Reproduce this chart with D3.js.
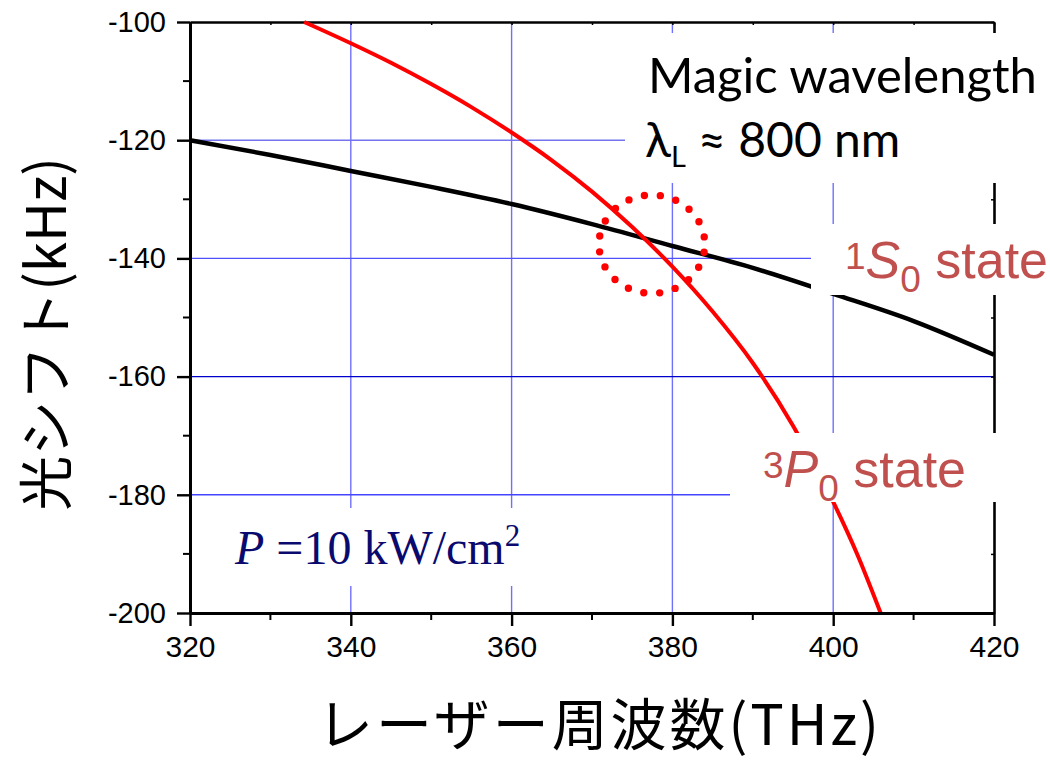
<!DOCTYPE html>
<html><head><meta charset="utf-8">
<script src="https://cdn.jsdelivr.net/npm/d3@7"></script>
<style>html,body{margin:0;padding:0;background:#fff;} svg{display:block}</style>
</head><body>
<svg id="chart" width="1050" height="766"></svg>
<script>
// ---- data ----
const xDomain = [320, 420];
const yDomain = [-200, -100];
const xTickValues = [320, 340, 360, 380, 400, 420];
const yTickValues = [-100, -120, -140, -160, -180, -200];
const xMinorTicks = [330, 350, 370, 390, 410];
const yMinorTicks = [-110, -130, -150, -170, -190];
const xGridValues = [340, 360, 380, 400];
const yGridValues = [-120, -140, -160, -180];
const freqS0  = [320, 330, 340, 350, 360, 370, 380, 390, 400, 410, 420];
const shiftS0 = [-120.0, -122.5, -125.2, -127.9, -130.8, -134.2, -137.9, -141.6, -146.0, -150.6, -156.3];
const freqP0  = [334.2, 340, 345, 350, 355, 360, 365, 370, 375, 380, 385, 390, 395, 400, 403, 405.9];
const shiftP0 = [-100, -103.6, -106.9, -110.5, -114.4, -118.7, -123.4, -128.7, -134.7, -141.4, -149.0, -157.7, -168.3, -181.2, -190.1, -200];
const magicCenter = [377.45, -137.6];
const magicRadius = [6.58, 8.32];

// ---- layout ----
const svg = d3.select('#chart');
const x = d3.scaleLinear().domain(xDomain).range([190, 994]);
const y = d3.scaleLinear().domain(yDomain).range([613, 22]);
const tickFont = "'Liberation Sans', Arial, sans-serif";

// grid
const gridColor = {"-120": "#7474ee", "-140": "#5050ff", "-160": "#0000cc", "-180": "#4545ff"};
svg.append('g').selectAll('line').data(xGridValues).join('line')
  .attr('x1', d => x(d)).attr('x2', d => x(d))
  .attr('y1', y(yDomain[1])).attr('y2', y(yDomain[0]))
  .attr('stroke', '#7070ff').attr('stroke-width', 1.4);
svg.append('g').selectAll('line').data(yGridValues).join('line')
  .attr('x1', x(xDomain[0])).attr('x2', x(xDomain[1]))
  .attr('y1', d => y(d)).attr('y2', d => y(d))
  .attr('stroke', d => gridColor[d]).attr('stroke-width', 1.4);

// top & right axes (mirror, tiny inward ticks)
const topAx = svg.append('g').attr('transform', `translate(0,${y(yDomain[1])})`)
  .call(d3.axisBottom(x).tickValues(xTickValues.concat(xMinorTicks)).tickSize(3).tickSizeOuter(0).tickFormat(''));
const rightAx = svg.append('g').attr('transform', `translate(${x(xDomain[1])},0)`)
  .call(d3.axisLeft(y).tickValues(yTickValues.concat(yMinorTicks)).tickSize(3).tickSizeOuter(0).tickFormat(''));
[topAx, rightAx].forEach(g => {
  g.select('.domain').attr('stroke', '#000').attr('stroke-width', 2.6);
  g.selectAll('.tick line').attr('stroke', '#000').attr('stroke-width', 1.5);
});

// curves
const line = d3.line().x(d => x(d[0])).y(d => y(d[1])).curve(d3.curveMonotoneX);
svg.append('path').datum(d3.zip(freqS0, shiftS0)).attr('d', line)
  .attr('fill', 'none').attr('stroke', '#000').attr('stroke-width', 4.5);
svg.append('path').datum(d3.zip(freqP0, shiftP0)).attr('d', line)
  .attr('fill', 'none').attr('stroke', '#ff0000').attr('stroke-width', 4);

// dotted magic circle
const rxPx = x(magicCenter[0] + magicRadius[0]) - x(magicCenter[0]);
const ryPx = y(magicCenter[1]) - y(magicCenter[1] + magicRadius[1]);
const circ = 2 * Math.PI * Math.sqrt((rxPx * rxPx + ryPx * ryPx) / 2);
const gap = circ / 20;
svg.append('ellipse')
  .attr('cx', x(magicCenter[0])).attr('cy', y(magicCenter[1]))
  .attr('rx', rxPx).attr('ry', ryPx)
  .attr('fill', 'none').attr('stroke', '#ff0000').attr('stroke-width', 7.4)
  .attr('stroke-linecap', 'round')
  .attr('stroke-dasharray', `0 ${gap}`).attr('stroke-dashoffset', -gap / 2);

// white label boxes
const boxes = [[625, 33, 425, 150], [811, 224, 239, 71], [730, 433, 320, 69], [205, 508, 400, 78]];
svg.append('g').selectAll('rect').data(boxes).join('rect')
  .attr('x', d => d[0]).attr('y', d => d[1]).attr('width', d => d[2]).attr('height', d => d[3])
  .attr('fill', '#fff');

// left & bottom axes
const leftAx = svg.append('g').attr('transform', `translate(${x(xDomain[0])},0)`)
  .call(d3.axisLeft(y).tickValues(yTickValues).tickSize(13).tickSizeOuter(0).tickPadding(11).tickFormat(d3.format('d')));
leftAx.append('g').selectAll('line').data(yMinorTicks).join('line')
  .attr('x1', 0).attr('x2', -7).attr('y1', d => y(d)).attr('y2', d => y(d))
  .attr('stroke', '#000').attr('stroke-width', 2);
const botAx = svg.append('g').attr('transform', `translate(0,${y(yDomain[0])})`)
  .call(d3.axisBottom(x).tickValues(xTickValues).tickSize(13).tickSizeOuter(0).tickPadding(10).tickFormat(d3.format('d')));
botAx.append('g').selectAll('line').data(xMinorTicks).join('line')
  .attr('x1', d => x(d)).attr('x2', d => x(d)).attr('y1', 0).attr('y2', 7)
  .attr('stroke', '#000').attr('stroke-width', 2);
[leftAx, botAx].forEach(g => {
  g.select('.domain').attr('stroke', '#000').attr('stroke-width', 3);
  g.selectAll('.tick line').attr('stroke', '#000').attr('stroke-width', 2.4);
  g.selectAll('.tick text').attr('fill', '#000').style('font-family', tickFont);
});
leftAx.selectAll('.tick text').style('font-size', '29px').text(d => d3.format('d')(d).replace('−', '-'));
botAx.selectAll('.tick text').style('font-size', '30px');

// axis titles
const cjk = "'Noto Sans CJK JP', 'Noto Sans', sans-serif";
svg.append('text').attr('transform', 'translate(42,334) rotate(-90)')
  .attr('text-anchor', 'middle').attr('dominant-baseline', 'central')
  .style('font-family', cjk).style('font-size', '55px').attr('fill', '#000')
  .text('光シフト(kHz)');
svg.append('text').attr('x', 598).attr('y', 745).attr('text-anchor', 'middle')
  .style('font-family', cjk).style('font-size', '56px').attr('fill', '#000')
  .attr('textLength', 562).attr('lengthAdjust', 'spacing')
  .text('レーザー周波数(THz)');

// annotations
const calib = "Lato, 'Open Sans', sans-serif";
svg.append('text').attr('x', 648).attr('y', 93)
  .style('font-family', calib).style('font-size', '49px').attr('fill', '#000')
  .text('Magic wavelength');
const lam = svg.append('text').attr('x', 645).attr('y', 157)
  .style('font-family', calib).style('font-size', '48px').attr('fill', '#000');
lam.append('tspan').text('λ');
lam.append('tspan').attr('dy', 10).style('font-size', '29px').text('L');
lam.append('tspan').attr('dy', -10).text(' ≈ 800 nm');

const labCol = '#c0504d';
function stateLabel(x0, base, sup, letter) {
  const t = svg.append('text').attr('x', x0).attr('y', base)
    .style('font-family', tickFont).attr('fill', labCol).style('font-size', '52px');
  t.append('tspan').attr('dy', -9).style('font-size', '37px').text(sup);
  t.append('tspan').attr('dy', 9).style('font-style', 'italic').text(letter);
  t.append('tspan').attr('dy', 14).style('font-size', '37px').text('0');
  t.append('tspan').attr('dy', -14).text(' state');
}
stateLabel(845, 278, '1', 'S');
stateLabel(763, 487, '3', 'P');

const pt = svg.append('text').attr('x', 235).attr('y', 564)
  .style('font-family', "'Liberation Serif', 'Times New Roman', serif")
  .style('font-size', '48px').attr('fill', '#0a0a6e');
pt.append('tspan').style('font-style', 'italic').text('P');
pt.append('tspan').text(' =10 kW/cm');
pt.append('tspan').attr('dy', -18).style('font-size', '31px').text('2');
</script>
</body></html>
